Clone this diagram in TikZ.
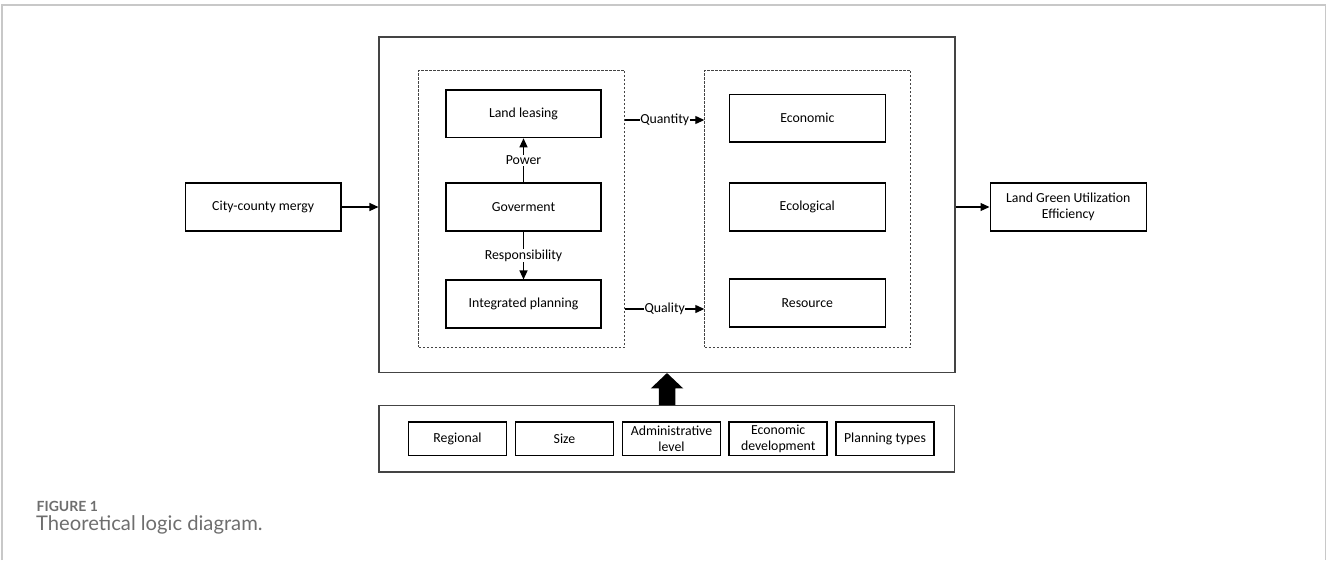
\documentclass[tikz,border=0pt]{standalone}
\usepackage{fontspec}
\setmainfont{Carlito}
\newfontfamily\capfont{Lato}
\usetikzlibrary{arrows.meta,calc}
\definecolor{framegray}{HTML}{C8C8C8}
\definecolor{capgray}{HTML}{6E6E6E}
\definecolor{edgegray}{HTML}{444444}
\begin{document}
\begin{tikzpicture}[x=1pt,y=-1pt,
  txt/.style={font=\fontsize{13.8}{16}\selectfont},
  box/.style={draw=black,line width=1.6pt,inner sep=0pt,align=center,txt,
    minimum width=156pt,minimum height=47.5pt},
  smallbox/.style={draw=black,line width=1.5pt,inner sep=0pt,align=center,txt,
    minimum width=98pt,minimum height=33.7pt},
  outerbox/.style={draw=edgegray,line width=1.1pt,inner sep=0pt},
  dashbox/.style={draw=edgegray,line width=0.9pt,dash pattern=on 2.5pt off 1.5pt,inner sep=0pt,
    minimum width=206pt,minimum height=277pt},
  arr/.style={line width=1.2pt,-{Triangle[length=9pt,width=8pt]}},
  lbl/.style={fill=white,inner sep=1pt,txt}
]
\useasboundingbox (0,0) rectangle (1328,560);
% figure frame
\draw[framegray,line width=1.5pt] (2,560) -- (2,5) -- (1325.5,5) -- (1325.5,560);

% main containers
\node[outerbox,minimum width=576pt,minimum height=335.5pt] (main) at (667,204.75) {};
\node[dashbox] (ldash) at (521.75,208.5) {};
\node[dashbox] (rdash) at (807.75,208.5) {};

% left column
\node[box,minimum width=155pt] (lease) at (523.5,113.75) {Land leasing};
\node[box,minimum width=155pt] (gov) at (523.5,207) {Goverment};
\node[box,minimum width=155pt] (plan) at (523.5,304) {Integrated planning};

% right column
\node[box] (econ) at (807.3,118.2) {Economic};
\node[box] (ecol) at (807.3,207) {Ecological};
\node[box] (res) at (807.3,303) {Resource};

% outside
\node[box,minimum width=155.7pt] (city) at (263.2,207) {City-county mergy};
\node[box] (lgue) at (1068.3,207) {Land Green Utilization\\Efficiency};

% bottom
\node[outerbox,minimum width=575.5pt,minimum height=66.3pt] (bottom) at (666.75,438.85) {};
\node[smallbox] (regional) at (457.5,438.8) {Regional};
\node[smallbox] (size) at (564.5,438.8) {Size};
\node[smallbox] (admin) at (671.5,438.8) {Administrative\\level};
\node[smallbox] (ecodev) at (778.2,438.8) {Economic\\development};
\node[smallbox] (ptypes) at (885,438.8) {Planning types};

% connectors
\draw[arr] (city.east) -- (city.east -| main.west);
\draw[arr] (lgue.west -| main.east) -- (lgue.west);
\draw[arr] (gov.north) -- node[lbl] {Power} (lease.south);
\draw[arr] (gov.south) -- node[lbl,pos=0.5] {Responsibility} (plan.north);
\coordinate (q1) at (ldash.east |- 0,120);
\coordinate (q2) at (rdash.west |- 0,120);
\coordinate (r1) at (ldash.east |- 0,309);
\coordinate (r2) at (rdash.west |- 0,309);
\draw[arr] (q1) -- node[lbl,inner sep=0.5pt] {Quantity} (q2);
\draw[arr] (r1) -- node[lbl,inner sep=0.5pt] {Quality} (r2);

% block arrow
\fill[black] ($(bottom.north)+(-8,0)$) -- ($(bottom.north)+(-8,-16.7)$) -- ($(bottom.north)+(-16,-16.7)$)
  -- (main.south) -- ($(bottom.north)+(16.5,-16.7)$) -- ($(bottom.north)+(8.5,-16.7)$) -- ($(bottom.north)+(8.5,0)$) -- cycle;

% caption
\node[anchor=base west,inner sep=0pt,text=capgray,font=\capfont\bfseries\fontsize{14}{16}\selectfont] (fig) at (36.5,511) {FIGURE 1};
\node[anchor=base west,inner sep=0pt,text=capgray,font=\capfont\fontsize{20.2}{23}\selectfont] (cap) at (36,530) {Theoretical logic diagram.};
\end{tikzpicture}
\end{document}
